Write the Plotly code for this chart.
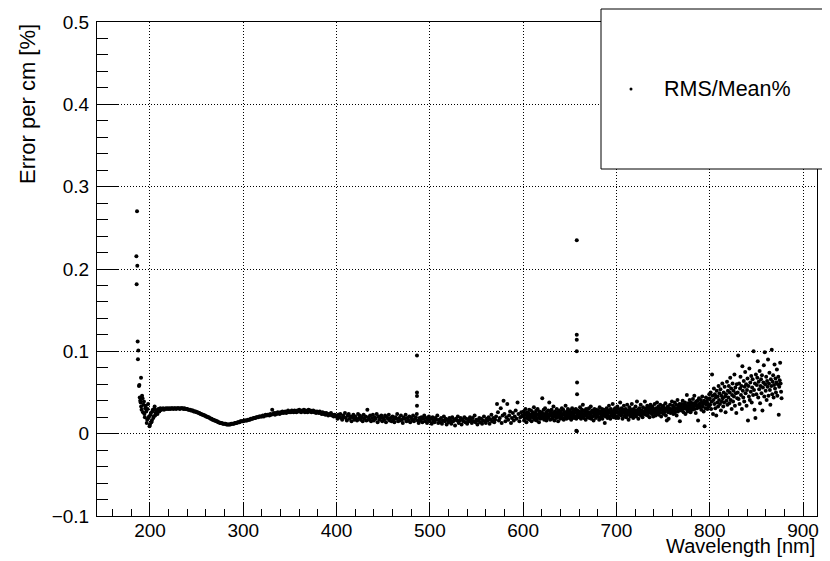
import plotly.graph_objects as go

# ---------------- data ----------------
# narrow spike at the UV edge of the spectrum
uv_spike_wl = [185.4, 185.7, 186.1, 186.4, 186.8, 187.1, 187.5, 188.2, 188.6, 190.4]
uv_spike_val = [0.2155, 0.1815, 0.270, 0.204, 0.112, 0.0905, 0.101, 0.058, 0.059, 0.068]

# extra points of the noisy start (half-nm offsets), 189.5 .. 211.5 nm
uv_extra_start, uv_extra_step = 189.5, 1.0
uv_extra_val = [0.040, 0.033, 0.046, 0.026, 0.039, 0.020, 0.034, 0.013, 0.030, 0.019,
                0.009, 0.023, 0.014, 0.027, 0.019, 0.030, 0.022, 0.028, 0.026, 0.029,
                0.028, 0.030, 0.029]

# segment 1: 189 .. 399 nm, 1 nm step
seg1_start, seg1_step = 189.0, 1.0
seg1_val = [
    0.044, 0.038, 0.029, 0.043, 0.035, 0.024, 0.031, 0.027, 0.017, 0.036,
    0.021, 0.011, 0.025, 0.016, 0.029, 0.021, 0.033, 0.025, 0.028, 0.024,
    0.030, 0.027, 0.031, 0.029, 0.030, 0.031, 0.029, 0.030, 0.031, 0.030,
    0.031, 0.030, 0.031, 0.030, 0.031, 0.031, 0.030, 0.031, 0.031, 0.030,
    0.031, 0.031, 0.031, 0.030, 0.031, 0.031, 0.031, 0.030, 0.031, 0.030,
    0.030, 0.030, 0.029, 0.029, 0.029, 0.028, 0.028, 0.028, 0.027, 0.027,
    0.027, 0.026, 0.026, 0.025, 0.025, 0.024, 0.024, 0.023, 0.023, 0.022,
    0.022, 0.021, 0.021, 0.020, 0.020, 0.019, 0.018, 0.018, 0.017, 0.017,
    0.016, 0.016, 0.015, 0.015, 0.014, 0.014, 0.013, 0.013, 0.013, 0.012,
    0.012, 0.012, 0.012, 0.011, 0.011, 0.011, 0.011, 0.011, 0.012, 0.012,
    0.012, 0.012, 0.013, 0.013, 0.013, 0.014, 0.014, 0.014, 0.015, 0.015,
    0.015, 0.015, 0.016, 0.016, 0.016, 0.016, 0.017, 0.017, 0.017, 0.018,
    0.018, 0.018, 0.019, 0.019, 0.019, 0.020, 0.020, 0.020, 0.021, 0.021,
    0.021, 0.021, 0.022, 0.021, 0.022, 0.023, 0.022, 0.023, 0.023, 0.022,
    0.024, 0.023, 0.029, 0.024, 0.025, 0.023, 0.025, 0.024, 0.026, 0.025,
    0.024, 0.026, 0.025, 0.027, 0.025, 0.026, 0.027, 0.025, 0.026, 0.028,
    0.026, 0.027, 0.026, 0.028, 0.027, 0.026, 0.028, 0.027, 0.026, 0.028,
    0.027, 0.029, 0.027, 0.026, 0.028, 0.027, 0.029, 0.026, 0.028, 0.027,
    0.026, 0.029, 0.027, 0.028, 0.026, 0.027, 0.028, 0.026, 0.027, 0.025,
    0.027, 0.026, 0.025, 0.027, 0.025, 0.024, 0.026, 0.024, 0.025, 0.023,
    0.025, 0.024, 0.022, 0.024, 0.023, 0.025, 0.022, 0.023, 0.021, 0.023,
    0.022,
]

# segment 2: 400 .. 599 nm, 1 nm step
seg2_start, seg2_step = 400.0, 1.0
seg2_val = [
    0.021, 0.018, 0.023, 0.020, 0.024, 0.019, 0.017, 0.022, 0.020, 0.025,
    0.019, 0.016, 0.022, 0.024, 0.018, 0.021, 0.015, 0.020, 0.023, 0.017,
    0.021, 0.018, 0.016, 0.024, 0.019, 0.022, 0.017, 0.020, 0.015, 0.023,
    0.018, 0.021, 0.016, 0.029, 0.020, 0.017, 0.022, 0.015, 0.019, 0.023,
    0.016, 0.020, 0.018, 0.024, 0.014, 0.021, 0.017, 0.019, 0.022, 0.015,
    0.019, 0.017, 0.022, 0.014, 0.020, 0.018, 0.023, 0.016, 0.019, 0.015,
    0.021, 0.017, 0.014, 0.020, 0.018, 0.024, 0.015, 0.019, 0.016, 0.022,
    0.017, 0.013, 0.020, 0.018, 0.023, 0.015, 0.019, 0.016, 0.021, 0.014,
    0.019, 0.017, 0.022, 0.015, 0.018, 0.020, 0.024, 0.016, 0.013, 0.019,
    0.016, 0.020, 0.014, 0.018, 0.022, 0.015, 0.019, 0.013, 0.017, 0.021,
    0.015, 0.018, 0.012, 0.020, 0.016, 0.014, 0.019, 0.017, 0.022, 0.013,
    0.017, 0.014, 0.019, 0.012, 0.016, 0.021, 0.015, 0.018, 0.011, 0.017,
    0.014, 0.019, 0.016, 0.012, 0.020, 0.015, 0.017, 0.010, 0.018, 0.016,
    0.021, 0.013, 0.016, 0.019, 0.011, 0.017, 0.015, 0.020, 0.014, 0.018,
    0.012, 0.017, 0.015, 0.020, 0.016, 0.013, 0.019, 0.015, 0.022, 0.014,
    0.017, 0.011, 0.016, 0.019, 0.014, 0.018, 0.012, 0.016, 0.021, 0.015,
    0.013, 0.018, 0.016, 0.020, 0.012, 0.017, 0.023, 0.015, 0.019, 0.014,
    0.017, 0.021, 0.036, 0.026, 0.016, 0.019, 0.031, 0.013, 0.022, 0.040,
    0.024, 0.015, 0.020, 0.036, 0.017, 0.022, 0.027, 0.013, 0.019, 0.025,
    0.016, 0.021, 0.028, 0.018, 0.038, 0.024, 0.015, 0.020, 0.026, 0.022,
]

# segment 3: 600 .. 877 nm, 0.5 nm step
seg3_start, seg3_step = 600.0, 0.5
seg3_val = [
    0.021, 0.027, 0.016, 0.024, 0.019, 0.030, 0.023, 0.014, 0.026, 0.020, 0.018, 0.025, 0.022, 0.029, 0.017, 0.023, 0.020, 0.028, 0.015, 0.024,
    0.021, 0.026, 0.019, 0.032, 0.022, 0.017, 0.025, 0.020, 0.028, 0.016, 0.023, 0.030, 0.019, 0.024, 0.014, 0.027, 0.021, 0.018, 0.025, 0.022,
    0.026, 0.043, 0.019, 0.024, 0.029, 0.017, 0.022, 0.031, 0.020, 0.025, 0.016, 0.027, 0.023, 0.019, 0.028, 0.021, 0.038, 0.024, 0.017, 0.026,
    0.022, 0.029, 0.018, 0.025, 0.020, 0.033, 0.023, 0.016, 0.027, 0.021, 0.024, 0.019, 0.030, 0.022, 0.026, 0.015, 0.023, 0.028, 0.020, 0.025,
    0.018, 0.027, 0.022, 0.031, 0.019, 0.024, 0.029, 0.017, 0.023, 0.026, 0.020, 0.034, 0.022, 0.018, 0.027, 0.024, 0.030, 0.021, 0.025, 0.019,
    0.028, 0.022, 0.026, 0.017, 0.024, 0.031, 0.020, 0.027, 0.023, 0.019, 0.025, 0.029, 0.021, 0.030, 0.018, 0.026, 0.022, 0.028, 0.024, 0.020,
    0.027, 0.020, 0.032, 0.023, 0.018, 0.026, 0.029, 0.021, 0.035, 0.024, 0.019, 0.028, 0.022, 0.025, 0.017, 0.030, 0.023, 0.027, 0.020, 0.026,
    0.024, 0.031, 0.019, 0.026, 0.022, 0.033, 0.018, 0.025, 0.028, 0.021, 0.027, 0.016, 0.024, 0.030, 0.022, 0.026, 0.019, 0.029, 0.023, 0.025,
    0.021, 0.028, 0.024, 0.017, 0.032, 0.025, 0.020, 0.027, 0.023, 0.030, 0.018, 0.026, 0.022, 0.029, 0.024, 0.013, 0.027, 0.021, 0.025, 0.031,
    0.023, 0.019, 0.028, 0.025, 0.034, 0.021, 0.026, 0.018, 0.030, 0.024, 0.027, 0.022, 0.036, 0.025, 0.020, 0.029, 0.023, 0.031, 0.026, 0.019,
    0.028, 0.021, 0.033, 0.025, 0.019, 0.030, 0.026, 0.023, 0.038, 0.027, 0.022, 0.031, 0.024, 0.018, 0.029, 0.026, 0.034, 0.021, 0.027, 0.024,
    0.030, 0.020, 0.026, 0.035, 0.023, 0.028, 0.017, 0.027, 0.032, 0.024, 0.021, 0.029, 0.025, 0.036, 0.022, 0.027, 0.019, 0.030, 0.026, 0.023,
    0.028, 0.033, 0.021, 0.026, 0.039, 0.024, 0.029, 0.018, 0.027, 0.031, 0.023, 0.026, 0.035, 0.022, 0.028, 0.025, 0.020, 0.032, 0.027, 0.024,
    0.026, 0.039, 0.029, 0.023, 0.031, 0.027, 0.034, 0.022, 0.029, 0.025, 0.032, 0.020, 0.028, 0.035, 0.026, 0.030, 0.024, 0.033, 0.027, 0.021,
    0.030, 0.025, 0.036, 0.028, 0.022, 0.031, 0.027, 0.038, 0.024, 0.029, 0.033, 0.023, 0.028, 0.026, 0.035, 0.030, 0.021, 0.029, 0.032, 0.025,
    0.028, 0.034, 0.024, 0.031, 0.027, 0.037, 0.022, 0.030, 0.016, 0.029, 0.033, 0.026, 0.018, 0.031, 0.028, 0.035, 0.025, 0.030, 0.027, 0.039,
    0.029, 0.034, 0.024, 0.032, 0.028, 0.038, 0.026, 0.031, 0.035, 0.022, 0.030, 0.041, 0.027, 0.033, 0.029, 0.036, 0.015, 0.031, 0.034, 0.028,
    0.036, 0.029, 0.040, 0.032, 0.026, 0.035, 0.031, 0.038, 0.024, 0.034, 0.030, 0.047, 0.033, 0.027, 0.037, 0.032, 0.029, 0.041, 0.034, 0.026,
    0.038, 0.031, 0.035, 0.029, 0.042, 0.033, 0.037, 0.046, 0.030, 0.036, 0.025, 0.039, 0.034, 0.031, 0.040, 0.016, 0.035, 0.043, 0.032, 0.037,
    0.034, 0.041, 0.029, 0.038, 0.045, 0.033, 0.036, 0.027, 0.040, 0.009, 0.037, 0.031, 0.044, 0.035, 0.039, 0.030, 0.042, 0.036, 0.033, 0.048,
    0.043, 0.035, 0.050, 0.030, 0.039, 0.072, 0.046, 0.024, 0.041, 0.055, 0.036, 0.048, 0.031, 0.044, 0.022, 0.052, 0.038, 0.045, 0.033, 0.058,
    0.041, 0.049, 0.036, 0.054, 0.028, 0.046, 0.039, 0.061, 0.043, 0.033, 0.050, 0.038, 0.057, 0.045, 0.026, 0.048, 0.040, 0.063, 0.035, 0.052,
    0.044, 0.058, 0.037, 0.050, 0.068, 0.041, 0.055, 0.030, 0.047, 0.061, 0.039, 0.052, 0.045, 0.072, 0.034, 0.056, 0.049, 0.025, 0.060, 0.043,
    0.050, 0.095, 0.042, 0.061, 0.036, 0.055, 0.069, 0.047, 0.058, 0.030, 0.082, 0.052, 0.044, 0.064, 0.039, 0.057, 0.075, 0.049, 0.060, 0.034,
    0.053, 0.067, 0.016, 0.058, 0.045, 0.079, 0.041, 0.062, 0.051, 0.070, 0.038, 0.056, 0.066, 0.047, 0.100, 0.053, 0.029, 0.061, 0.019, 0.072,
    0.048, 0.059, 0.068, 0.088, 0.044, 0.063, 0.054, 0.076, 0.037, 0.058, 0.066, 0.049, 0.071, 0.028, 0.056, 0.062, 0.083, 0.045, 0.099, 0.060,
    0.052, 0.069, 0.041, 0.064, 0.057, 0.090, 0.046, 0.061, 0.074, 0.053, 0.035, 0.066, 0.058, 0.102, 0.048, 0.063, 0.071, 0.044, 0.059, 0.084,
    0.055, 0.067, 0.050, 0.062, 0.078, 0.046, 0.060, 0.069, 0.023, 0.057, 0.065, 0.086, 0.061, 0.051, 0.043,
]

# emission-line spikes (H-beta and H-alpha)
hbeta_wl = [486.2, 486.2, 486.2, 486.2]
hbeta_val = [0.095, 0.050, 0.0456, 0.034]
halpha_wl = [657.5, 657.5, 657.5, 657.5, 657.8, 657.8, 657.0, 657.6]
halpha_val = [0.235, 0.120, 0.114, 0.100, 0.062, 0.048, 0.0035, 0.003]

legend_label = "RMS/Mean%"
x_title = "Wavelength [nm]"
y_title = "Error per cm [%]"

# ---------------- assemble ----------------
def seg_x(start, step, vals):
    return [start + step * i for i in range(len(vals))]

xs = (uv_spike_wl + seg_x(uv_extra_start, uv_extra_step, uv_extra_val)
      + seg_x(seg1_start, seg1_step, seg1_val) + seg_x(seg2_start, seg2_step, seg2_val)
      + seg_x(seg3_start, seg3_step, seg3_val) + hbeta_wl + halpha_wl)
ys = (uv_spike_val + uv_extra_val + seg1_val + seg2_val + seg3_val + hbeta_val + halpha_val)

FONT = "Liberation Sans, Arial, Helvetica, sans-serif"
OFF = 8                      # the page body adds an 8 px margin around the figure
W, H = 830 - OFF, 561 - OFF
L, T = 97 - OFF, 22 - OFF    # plot frame: x 97..817, y 22..516 in window pixels
R = W - (817 - OFF)
B = H - (516 - OFF)
PW, PH = W - L - R, H - T - B

def px(xp):
    return (xp - OFF - L) / PW

def py(yp):
    return (H - B - (yp - OFF)) / PH

fig = go.Figure()
fig.add_trace(go.Scatter(x=xs, y=ys, mode="markers",
                         marker=dict(color="black", size=4, line=dict(width=0)),
                         name=legend_label, showlegend=False, hoverinfo="skip"))

axis_common = dict(
    automargin=False,
    showline=True, mirror=True, linecolor="black", linewidth=1,
    ticks="inside", tickcolor="black", tickwidth=1,
    showgrid=True, gridcolor="black", gridwidth=1, griddash="1px,2px",
    zeroline=False, tickfont=dict(family=FONT, size=19, color="black"),
)

fig.update_layout(
    template="none",
    width=W, height=H,
    margin=dict(l=L, r=R, t=T, b=B, pad=0, autoexpand=False),
    paper_bgcolor="white", plot_bgcolor="white",
    showlegend=False,
    font=dict(family=FONT, color="black"),
    xaxis=dict(range=[143.2, 915.0], tickmode="linear", tick0=0, dtick=100,
               ticklen=14, ticklabelstandoff=-3,
               minor=dict(dtick=20, tick0=0, ticks="inside", ticklen=7,
                          tickcolor="black", showgrid=False),
               **axis_common),
    yaxis=dict(range=[-0.1, 0.5], tickmode="linear", tick0=0, dtick=0.1,
               ticklen=21, ticklabelstandoff=3,
               minor=dict(dtick=0.02, tick0=0, ticks="inside", ticklen=11,
                          tickcolor="black", showgrid=False),
               **axis_common),
)

# legend box drawn in the ROOT style
fig.add_shape(type="rect", xref="paper", yref="paper",
              x0=px(601), x1=px(840), y0=py(169), y1=py(9),
              line=dict(color="black", width=1), fillcolor="white", layer="above")
fig.add_shape(type="circle", xref="paper", yref="paper",
              x0=px(629.5), x1=px(632.5), y0=py(90.5), y1=py(87.5),
              line=dict(color="black", width=0), fillcolor="black", layer="above")
fig.add_annotation(text=legend_label, xref="paper", yref="paper",
                   x=px(662), y=py(89), xanchor="left", yanchor="middle",
                   showarrow=False, font=dict(family=FONT, size=21.5, color="black"))

fig.add_annotation(text=x_title, xref="paper", yref="paper",
                   x=1.0, y=py(546), xanchor="right", yanchor="middle",
                   showarrow=False, font=dict(family=FONT, size=20, color="black"))
fig.add_annotation(text=y_title, xref="paper", yref="paper", textangle=-90,
                   x=px(27), y=1.0, xanchor="center", yanchor="top",
                   showarrow=False, font=dict(family=FONT, size=22, color="black"))

fig.write_html("out.html")
